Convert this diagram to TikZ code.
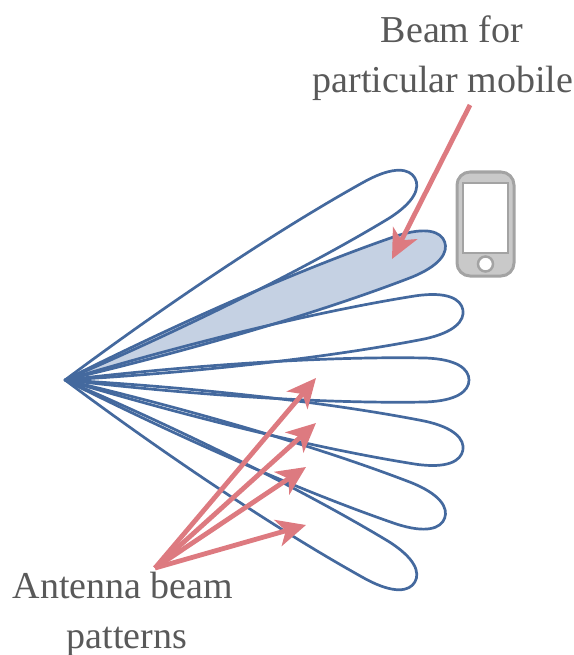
\documentclass[tikz,border=0pt]{standalone}
\usepackage{fontspec}
\setmainfont{Liberation Serif}
\usetikzlibrary{arrows.meta}
\definecolor{lobeblue}{HTML}{44699E}
\definecolor{lobefill}{HTML}{C5D1E3}
\definecolor{arrowpink}{HTML}{DD7A80}
\definecolor{labelgrey}{HTML}{595959}
\definecolor{phoneedge}{HTML}{A3A3A3}
\definecolor{phonebody}{HTML}{C9C9C9}
\newcommand{\lobepath}{(0,0) .. controls (110,13) and (250,24) .. (360,22) .. controls (392,21) and (404,11) .. (404,0) .. controls (404,-11) and (392,-21) .. (360,-22) .. controls (250,-24) and (110,-13) .. (0,0) -- cycle}
\tikzset{
 lobe/.style={draw=lobeblue,line width=2.7pt,line join=round},
 callout/.style={draw=arrowpink,line width=4.8pt,-{Stealth[length=29pt,width=27pt,inset=8pt]}},
 caption/.style={text=labelgrey,align=center,font=\fontsize{38}{50}\selectfont}
}

\begin{document}
\begin{tikzpicture}[x=1pt,y=-1pt]
 \useasboundingbox (0,0) rectangle (573,655);
 \coordinate (feed) at (65,380);

 % shaded beam goes first so all outlines stay on top
 \fill[lobefill,shift={(feed)},rotate=20] \lobepath;
 \foreach \ang in {30,20,10,0,-10,-20,-30}
  \draw[lobe,shift={(feed)},rotate=\ang] \lobepath;

 % phone
 \node (phone) [draw=phoneedge,fill=phonebody,line width=3pt,rounded corners=13pt,minimum width=57pt,minimum height=104pt,inner sep=0pt] at (485.5,224) {};
 \node (screen) [draw=phoneedge,fill=white,line width=2.5pt,minimum width=45pt,minimum height=70pt,inner sep=0pt] at (485.5,218) {};
 \node (homekey) [circle,draw=phoneedge,fill=white,line width=2.5pt,minimum size=15pt,inner sep=0pt] at (485.5,264) {};

 \node (mobile) [caption] at (443,58) {\hspace{18pt}Beam for\\particular mobile};
 \node (patterns) [caption] at (123,614) {Antenna beam\\\hspace{8pt}patterns};

 \coordinate (mobiletail) at (470,105);
 \coordinate (mobilehead) at (392,259);
 \coordinate (fan) at (155,568);
 \coordinate (heada) at (316,378);
 \coordinate (headb) at (316,423);
 \coordinate (headc) at (306,467);
 \coordinate (headd) at (306,525);

\path
    (mobiletail) edge [callout] (mobilehead);
\path
    (fan) edge [callout] (heada)
          edge [callout] (headb)
          edge [callout] (headc)
          edge [callout] (headd);
\end{tikzpicture}
\end{document}
